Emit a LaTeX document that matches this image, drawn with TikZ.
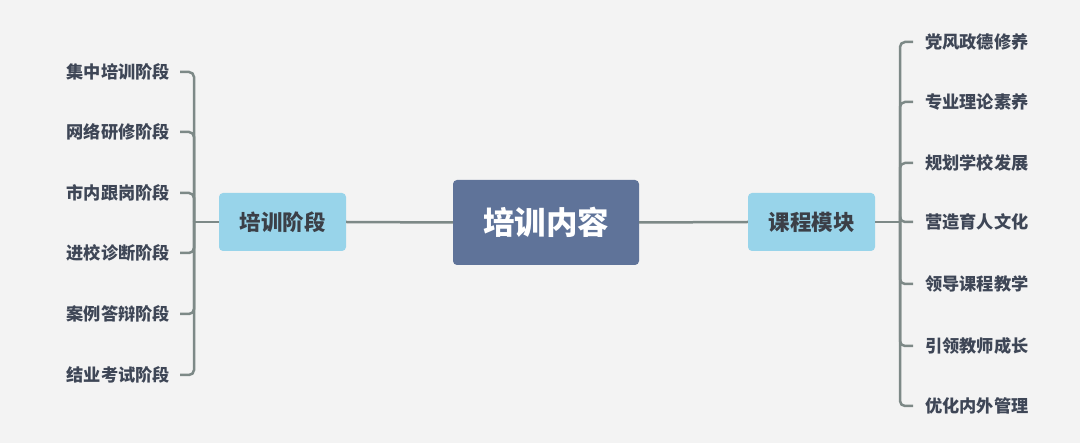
\documentclass[tikz,border=0pt]{standalone}
\usepackage{fontspec}
\setmainfont{Noto Sans CJK SC}
\usetikzlibrary{positioning}
\definecolor{bgcol}{HTML}{F3F3F3}
\definecolor{rootcol}{HTML}{5F7399}
\definecolor{stagecol}{HTML}{98D4EA}
\definecolor{linkcol}{HTML}{7D8987}
\definecolor{leafcol}{HTML}{3E4656}
\definecolor{stagetxt}{HTML}{3B3F47}
\tikzset{
  rootbox/.style  ={fill=rootcol,rounded corners=4pt,text=white,align=center,
                    font=\fontsize{31.5}{36}\selectfont\bfseries,
                    minimum width=186pt,minimum height=85pt},
  stagebox/.style ={fill=stagecol,rounded corners=4pt,text=stagetxt,align=center,
                    font=\fontsize{21.5}{25}\selectfont\bfseries,
                    minimum width=127pt,minimum height=58pt},
  leaf/.style     ={text=leafcol,inner sep=0pt,
                    font=\fontsize{17.2}{20}\selectfont\bfseries},
  link/.style     ={draw=linkcol,line width=2.5pt,rounded corners=5pt},
}
\begin{document}
\begin{tikzpicture}[x=1pt,y=-1pt]
\useasboundingbox[fill=bgcol] (0,0) rectangle (1080,443);
% ---- root and the two branches ----
\node[rootbox]  (root)   at (546,222.5) {培训内容};
\node[stagebox] (phase)  at (282.5,222) {培训阶段};
\node[stagebox] (module) at (811.5,222) {课程模块};
\draw[link] (phase.east) -- (root.west);
\draw[link] (root.east) -- (module.west);
% ---- left leaves : training phases ----
\coordinate (spineL) at (194,222);
\draw[link] (phase.west) -- (spineL);
\foreach \n/\y/\t in {p1/72/集中培训阶段,p2/132/网络研修阶段,p3/193/市内跟岗阶段,
                      p4/253/进校诊断阶段,p5/314/案例答辩阶段,p6/375/结业考试阶段}{
  \node[leaf,anchor=east] (\n) at (170,\y) {\t};
  \draw[link] (spineL) |- ([xshift=10pt]\n.east);
}
% ---- right leaves : course modules ----
\coordinate (spineR) at (900,222);
\draw[link] (module.east) -- (spineR);
\foreach \n/\y/\t in {m1/42/党风政德修养,m2/102/专业理论素养,m3/163/规划学校发展,
                      m4/222/营造育人文化,m5/284/领导课程教学,m6/346/引领教师成长,
                      m7/406/优化内外管理}{
  \node[leaf,anchor=west] (\n) at (925,\y) {\t};
  \draw[link] (spineR) |- ([xshift=-12pt]\n.west);
}
\end{tikzpicture}
\end{document}
